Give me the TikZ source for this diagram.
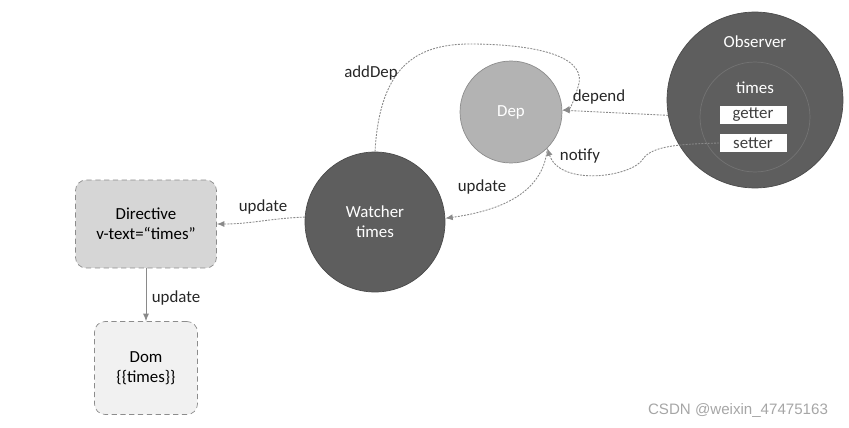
\documentclass[tikz,border=0pt]{standalone}
\usepackage{fontspec}
\setmainfont{Carlito}
\newfontfamily\markfont{Liberation Sans}
\usepackage{xcolor}
\usetikzlibrary{arrows.meta,positioning,calc}
\definecolor{cdark}{HTML}{5E5E5E}
\definecolor{cdep}{HTML}{B3B3B3}
\definecolor{boxbg}{HTML}{D6D6D6}
\definecolor{boxbg2}{HTML}{F1F1F1}
\definecolor{cline}{HTML}{8A8A8A}
\tikzset{
  bigc/.style  = {circle, fill=cdark, draw=cdark!80!black, line width=0.4pt,
                  inner sep=0pt, text=white, align=center},
  box/.style   = {rounded corners=6pt, draw=black!45, densely dashed, fill=boxbg,
                  align=center, inner sep=4pt},
  pbox/.style  = {box, fill=boxbg2},
  slot/.style  = {fill=white, draw=none, minimum width=1.34cm, minimum height=0.38cm,
                  inner sep=0pt, text=black!75},
  ar/.style    = {-{Latex[length=1.5mm,width=1.2mm]}, line width=0.5pt, draw=cline},
  dots/.style  = {dash pattern=on 1.1pt off 0.7pt},
  lbl/.style   = {text=black!85},
}

\begin{document}
\begin{tikzpicture}[x=0.02cm,y=0.02cm,font=\fontsize{9.6}{11.5}\selectfont]
  \useasboundingbox (0,0) rectangle (849,427);

  % observer with its property
  \node[bigc, minimum size=3.52cm] (obs) at (755,327) {};
  \node[bigc, draw=black!55, minimum size=2.2cm] (prop) at (755,310) {};
  \node[text=white] (obslbl) at (755,385) {Observer};
  \node[text=white] (timeslbl) at (755,339) {times};
  \node[slot] (getter) at (753,312) {getter};
  \node[slot] (setter) at (753,284) {setter};

  % dep and watcher
  \node[bigc, fill=cdep, draw=black!45, minimum size=2.04cm] (dep) at (511,315) {Dep};
  \node[bigc, minimum size=2.8cm] (watcher) at (375,205) {Watcher\\times};

  % view side
  \node[box, minimum width=2.82cm, minimum height=1.76cm] (directive) at (146,203) {Directive\\v-text=``times''};
  \node[pbox, minimum width=2.06cm, minimum height=1.86cm] (dom) at (146,59) {Dom\\\{\{times\}\}};

  % connectors
  \draw[ar, dots] (obs.190) -- (dep.2);
  \draw[ar, dots] (watcher.north) .. controls (380,365) and (420,384) .. (475,383)
        .. controls (545,382) and (588,368) .. (578,340)
        .. controls (574,326) and (570,318) .. (dep.2);
  \draw[ar, dots] (setter.west) .. controls (685,283) and (652,282) .. (643,268)
        .. controls (632,250) and (560,240) .. (dep.-45);
  \draw[ar, dots] (dep.-45) to[out=-95,in=8] (watcher.3);
  \draw[ar, dots] (watcher.176) to[out=182,in=0] (directive.east);
  \draw[ar] (directive.south) -- (dom.north);

  % labels
  \node[lbl] (l1) at (371,354) {addDep};
  \node[lbl] (l2) at (599,330) {depend};
  \node[lbl] (l3) at (580,271) {notify};
  \node[lbl] (l4) at (482,240) {update};
  \node[lbl] (l5) at (263,220) {update};
  \node[lbl] (l6) at (176,129) {update};

  \node[font=\markfont\fontsize{8.6}{10}\selectfont, text=black!35] (mark) at (738,16) {CSDN @weixin\_47475163};
\end{tikzpicture}
\end{document}
